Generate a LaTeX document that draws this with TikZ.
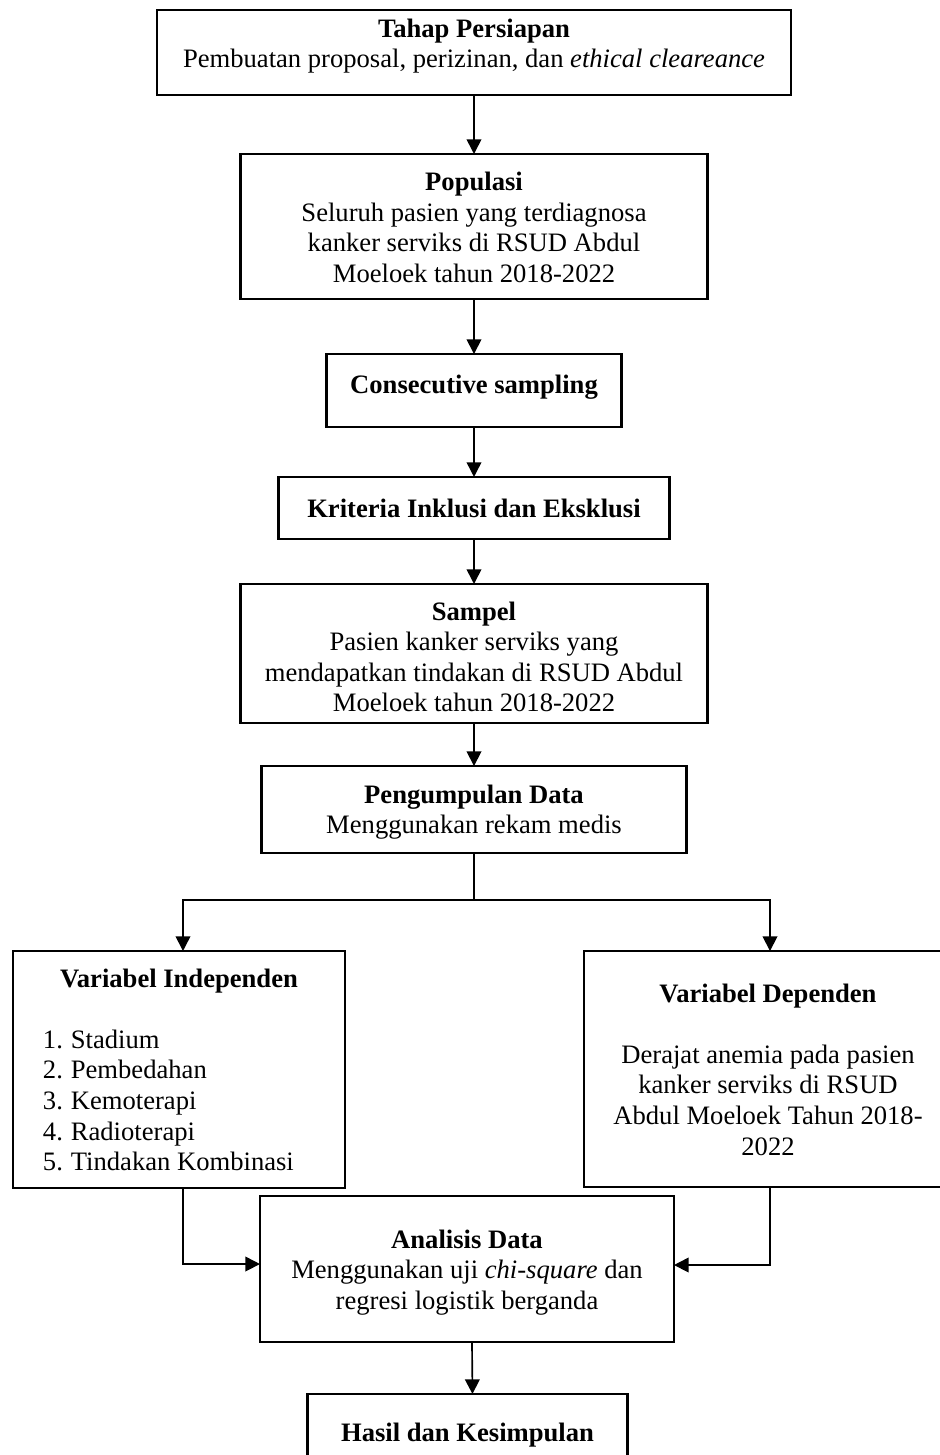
\documentclass[tikz,border=0pt]{standalone}
\usepackage{fontspec}
\setmainfont{Liberation Serif}
\usetikzlibrary{arrows.meta}
% invisible struts that set the height of a first line / depth of a last line
\newcommand\upst[1]{\rule{0pt}{#1}}
\newcommand\dnst[1]{\rule[-#1]{0pt}{#1}}
% one numbered entry of a list, left aligned in a fixed-width line
\newcommand\itemline[2]{\makebox[122.7pt][l]{\makebox[12.6pt][l]{#1}#2}}

\begin{document}
\begin{tikzpicture}[x=0.451pt, y=-0.451pt,
  box/.style={draw, line width=1.1pt, rectangle, inner sep=0pt, outer sep=0pt,
              align=center, font=\fontsize{12pt}{13.8pt}\selectfont},
  link/.style={line width=0.75pt},
  arr/.style={link, -{Triangle[length=6.6pt,width=6.6pt]}}]
\useasboundingbox (0,0) rectangle (940,1455);
\clip (0,0) rectangle (940,1455);

% main column
\node[box, minimum width=285.9pt, minimum height=38.3pt] (prep) at (474,52.5)
  {\upst{9pt}\textbf{Tahap Persiapan}\\Pembuatan proposal, perizinan, dan \textit{ethical cleareance}\dnst{8.9pt}};
\node[box, minimum width=210.6pt, minimum height=65.4pt] (pop) at (474,226.5)
  {\upst{9pt}\textbf{Populasi}\\Seluruh pasien yang terdiagnosa\\kanker serviks di RSUD Abdul\\Moeloek tahun 2018-2022};
\node[box, minimum width=133.0pt, minimum height=32.9pt] (cons) at (474,390.5)
  {\upst{9pt}\textbf{Consecutive sampling}\dnst{5.9pt}};
\node[box, minimum width=176.3pt, minimum height=28.0pt] (krit) at (474,508)
  {\upst{9pt}\textbf{Kriteria Inklusi dan Eksklusi}\dnst{0.6pt}};
\node[box, minimum width=210.6pt, minimum height=62.7pt] (samp) at (474,653.5)
  {\upst{11.3pt}\textbf{Sampel}\\Pasien kanker serviks yang\\mendapatkan tindakan di RSUD Abdul\\Moeloek tahun 2018-2022};
\node[box, minimum width=191.7pt, minimum height=39.2pt] (peng) at (474,809.5)
  {\upst{10.8pt}\textbf{Pengumpulan Data}\\Menggunakan rekam medis};

% the two variable boxes
\node[box, minimum width=149.7pt, minimum height=106.9pt] (indep) at (179,1069.5)
  {\upst{8.6pt}\textbf{Variabel Independen}\\[13.8pt]%
   \itemline{1.}{Stadium}\\\itemline{2.}{Pembedahan}\\\itemline{3.}{Kemoterapi}\\%
   \itemline{4.}{Radioterapi}\\\itemline{5.}{Tindakan Kombinasi}};
\node[box, minimum width=166.0pt, minimum height=106.4pt] (dep) at (768,1069)
  {\upst{8.7pt}\textbf{Variabel Dependen}\\[13.8pt]Derajat anemia pada pasien\\kanker serviks di RSUD\\Abdul Moeloek Tahun 2018-\\2022};

% analysis and conclusion
\node[box, minimum width=186.7pt, minimum height=65.8pt] (ana) at (467,1269)
  {\upst{11.3pt}\textbf{Analisis Data}\\Menggunakan uji \textit{chi-square} dan\\regresi logistik berganda};
\node[box, minimum width=144.3pt, minimum height=36.1pt] (hasil) at (467.5,1434)
  {\upst{9pt}\textbf{Hasil dan Kesimpulan}\dnst{0.9pt}};

% connectors
\draw[arr] (prep) -- (pop);
\draw[arr] (pop) -- (cons);
\draw[arr] (cons) -- (krit);
\draw[arr] (krit) -- (samp);
\draw[arr] (samp) -- (peng);
\coordinate (fork) at (474,900);
\draw[link] (peng) -- (fork);
\draw[arr] (fork) -| ([xshift=1.8pt]indep.north);
\draw[arr] (fork) -| ([xshift=0.9pt]dep.north);
\draw[arr] ([xshift=1.8pt]indep.south) |- ([yshift=2.25pt]ana.west);
\draw[arr] ([xshift=0.9pt]dep.south) |- ([yshift=1.8pt]ana.east);
\draw[arr] ([xshift=2.25pt]ana.south) -- ([xshift=2.25pt]hasil.north);
\end{tikzpicture}
\end{document}
